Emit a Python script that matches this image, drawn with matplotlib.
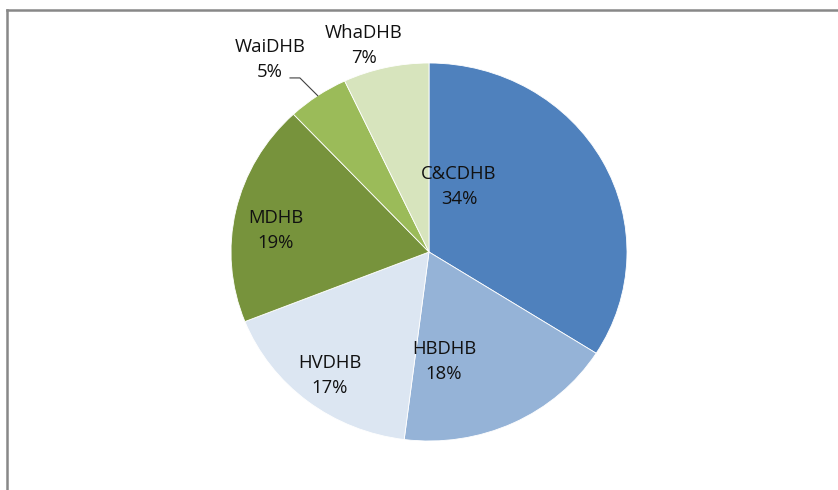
import numpy as np
import matplotlib.pyplot as plt
from matplotlib.lines import Line2D

labels = ['C&CDHB', 'HBDHB', 'HVDHB', 'MDHB', 'WaiDHB', 'WhaDHB']
shares = [34, 18, 17, 19, 5, 7]
colors = ['#4F81BD', '#95B3D7', '#DCE6F2', '#77933C', '#9BBB59', '#D7E4BD']
# label centres (data units, radius = 1)
label_pos = [(0.152, 0.344), (0.076, -0.582), (-0.50, -0.651),
             (-0.773, 0.116), (-0.803, 1.021), (-0.328, 1.09)]

plt.rcParams['font.family'] = ['Open Sans', 'DejaVu Sans']

fig = plt.figure(figsize=(8.38, 4.90), dpi=100)
W, H = 838, 490
cx, cy, rx, ry = 429, 252, 198, 189
ax = fig.add_axes([(cx - rx) / W, (H - cy - ry) / H, 2 * rx / W, 2 * ry / H])

wedges, _ = ax.pie(shares, colors=colors, startangle=90, counterclock=False,
                   wedgeprops=dict(edgecolor='white', linewidth=0.6))
ax.set_aspect('auto')
ax.set_xlim(-1, 1)
ax.set_ylim(-1, 1)
ax.axis('off')

for lab, val, (x, y) in zip(labels, shares, label_pos):
    ax.text(x, y, f'{lab}\n{val}%', ha='center', va='center', fontsize=13.3,
            color='#111111', linespacing=1.5, clip_on=False)

# leader line for WaiDHB
w = wedges[4]
mid = np.deg2rad((w.theta1 + w.theta2) / 2)
ax.plot([-0.702, -0.652, np.cos(mid)], [0.921, 0.921, np.sin(mid)],
        color='#404040', lw=0.8, clip_on=False)

# outer frame (partially cut off)
fig.add_artist(Line2D([6.5 / W, 6.5 / W], [0, 1 - 10 / H], transform=fig.transFigure,
                      color='#888888', lw=1.8))
fig.add_artist(Line2D([6.5 / W, 1], [1 - 10 / H, 1 - 10 / H], transform=fig.transFigure,
                      color='#888888', lw=1.8))

fig.savefig('out.png', dpi=100)
